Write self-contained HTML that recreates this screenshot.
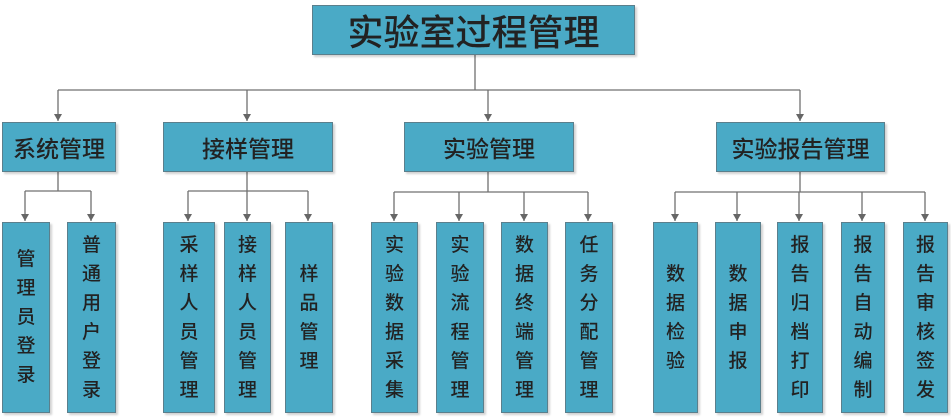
<!DOCTYPE html>
<html><head><meta charset="utf-8"><style>
body{margin:0;width:951px;height:417px;background:#fff;position:relative;overflow:hidden;font-family:"Liberation Sans","Noto Sans CJK SC",sans-serif;}
.b{position:absolute;box-sizing:border-box;background:#4aaac6;border:1px solid #5b7f8c;box-shadow:2px 2px 2px rgba(0,0,0,.18);color:#222;display:flex;align-items:center;justify-content:center;font-weight:500;}
.l2{top:122px;height:50px;font-size:23px;}
.lf{top:222px;height:191px;font-size:19px;line-height:29px;}
.lf span{width:1em;text-align:center;word-break:break-all;display:block;}
svg{position:absolute;left:0;top:0}
</style></head><body>
<svg width="951" height="417">
<defs><marker id="a" markerWidth="8" markerHeight="8" refX="7" refY="4" orient="auto" markerUnits="userSpaceOnUse"><path d="M0,0 L7,4 L0,8 z" fill="#666"/></marker></defs>
<g stroke="#707070" stroke-width="1.3" fill="none">
<path d="M475,54 V90 M58,90 H800"/>
<path d="M58,172 V191 M25,191 H91"/>
<path d="M247,172 V191 M188,191 H308"/>
<path d="M488,172 V192 M394,192 H588"/>
<path d="M800,172 V192 M675,192 H925"/>
</g>
<g stroke="#707070" stroke-width="1.3" fill="none" marker-end="url(#a)">
<path d="M58,90 V121"/><path d="M247,90 V121"/><path d="M488,90 V121"/><path d="M800,90 V121"/>
<path d="M25,191 V221"/><path d="M91,191 V221"/>
<path d="M188,191 V221"/><path d="M247,191 V221"/><path d="M308,191 V221"/>
<path d="M394,192 V221"/><path d="M459,192 V221"/><path d="M524,192 V221"/><path d="M588,192 V221"/>
<path d="M675,192 V221"/><path d="M737,192 V221"/><path d="M799,192 V221"/><path d="M862,192 V221"/><path d="M925,192 V221"/>
</g></svg>
<div class="b" style="left:312px;top:5px;width:323px;height:50px;font-size:36px;">实验室过程管理</div>
<div class="b l2" style="left:2px;width:114px;">系统管理</div>
<div class="b l2" style="left:163px;width:170px;">接样管理</div>
<div class="b l2" style="left:404px;width:170px;">实验管理</div>
<div class="b l2" style="left:716px;width:169px;">实验报告管理</div>
<div class="b lf" style="left:2px;width:48px;"><span>管理员登录</span></div>
<div class="b lf" style="left:67px;width:49px;"><span>普通用户登录</span></div>
<div class="b lf" style="left:163px;width:52px;"><span>采样人员管理</span></div>
<div class="b lf" style="left:224px;width:47px;"><span>接样人员管理</span></div>
<div class="b lf" style="left:285px;width:48px;"><span>样品管理</span></div>
<div class="b lf" style="left:371px;width:47px;"><span>实验数据采集</span></div>
<div class="b lf" style="left:436px;width:48px;"><span>实验流程管理</span></div>
<div class="b lf" style="left:501px;width:47px;"><span>数据终端管理</span></div>
<div class="b lf" style="left:565px;width:48px;"><span>任务分配管理</span></div>
<div class="b lf" style="left:653px;width:45px;"><span>数据检验</span></div>
<div class="b lf" style="left:715px;width:46px;"><span>数据申报</span></div>
<div class="b lf" style="left:777px;width:46px;"><span>报告归档打印</span></div>
<div class="b lf" style="left:841px;width:44px;"><span>报告自动编制</span></div>
<div class="b lf" style="left:903px;width:45px;"><span>报告审核签发</span></div>
</body></html>
